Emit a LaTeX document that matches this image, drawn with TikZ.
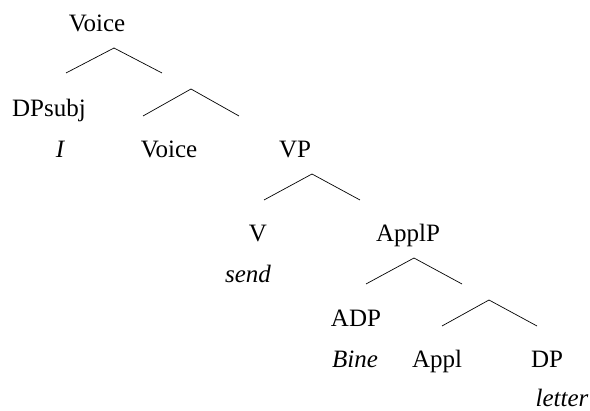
\documentclass[tikz,border=0pt]{standalone}
\usepackage{fontspec}
\setmainfont{Liberation Serif}
\usepackage{tikz}

\tikzset{
  lbl/.style={anchor=base, inner sep=0pt, font=\fontsize{25}{29}\selectfont},
  word/.style={lbl, font=\fontsize{25}{29}\selectfont\itshape},
  branch/.style={black, line width=0.7pt}
}

\begin{document}
\begin{tikzpicture}[x=1pt, y=-1pt]
        \useasboundingbox (0,0) rectangle (590,411);

        % labels
        \node[lbl] (voiceTop) at (97,32) {Voice};
        \node[lbl] (dpsubj) at (49,117) {DPsubj};
        \node[word] (subjI) at (60,158) {I};
        \node[lbl] (voiceHead) at (169,158) {Voice};
        \node[lbl] (vp) at (295,158) {VP};
        \node[lbl] (verb) at (258,242) {V};
        \node[word] (send) at (248,283) {send};
        \node[lbl] (applp) at (408,242) {ApplP};
        \node[lbl] (adp) at (356,327) {ADP};
        \node[word] (bine) at (355,368) {Bine};
        \node[lbl] (appl) at (437,368) {Appl};
        \node[lbl] (dp) at (547,368) {DP};
        \node[word] (letter) at (562,407) {letter};

        % branch points
        \coordinate (topApex) at (114,48);
        \coordinate (topL) at (66,73);
        \coordinate (topR) at (162,73);

        \coordinate (voiceApex) at (191,89);
        \coordinate (voiceL) at (143,116);
        \coordinate (voiceR) at (239,116);

        \coordinate (vpApex) at (312,174);
        \coordinate (vpL) at (264,200);
        \coordinate (vpR) at (360,200);

        \coordinate (applpApex) at (414,258);
        \coordinate (applpL) at (366,284);
        \coordinate (applpR) at (462,284);

        \coordinate (applApex) at (489,300);
        \coordinate (applL) at (442,326);
        \coordinate (applR) at (537,326);

        \draw[branch] (topL) -- (topApex) -- (topR);
        \draw[branch] (voiceL) -- (voiceApex) -- (voiceR);
        \draw[branch] (vpL) -- (vpApex) -- (vpR);
        \draw[branch] (applpL) -- (applpApex) -- (applpR);
        \draw[branch] (applL) -- (applApex) -- (applR);

    \end{tikzpicture}
\end{document}
